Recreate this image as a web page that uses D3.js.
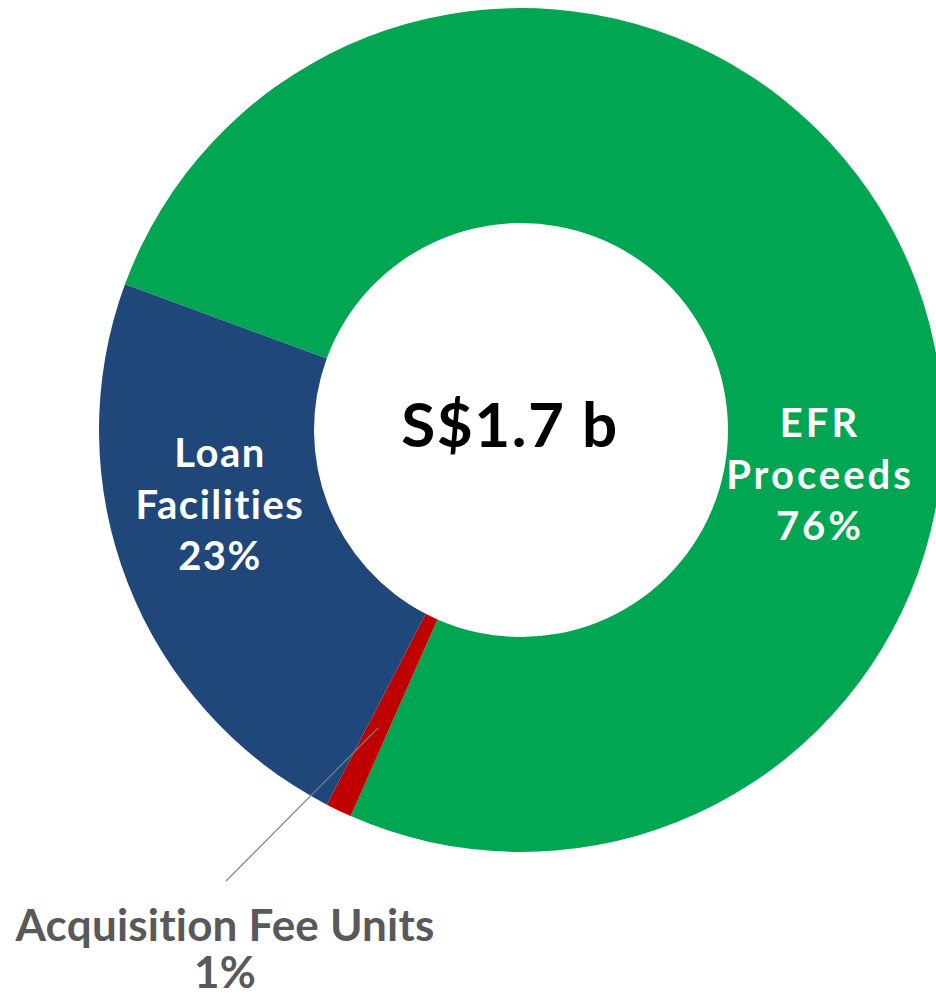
<!DOCTYPE html>
<html>
<head>
<meta charset="utf-8">
<script src="https://cdn.jsdelivr.net/npm/d3@7"></script>
<style>
  html, body { margin: 0; padding: 0; background: #fff; }
  svg { display: block; }
  text { font-family: Lato, "Noto Sans", sans-serif; font-weight: 700; font-variant-ligatures: none; font-feature-settings: "liga" 0, "clig" 0; }
</style>
</head>
<body>
<svg id="chart" width="936" height="996"></svg>
<script>
// Data
const categories = ["EFR Proceeds", "Acquisition Fee Units", "Loan Facilities"];
const values = [76, 1, 23];
const percentLabels = ["76%", "1%", "23%"];
const colors = ["#00A651", "#C00000", "#1F477A"];
const centerLabel = "S$1.7 b";

const svg = d3.select("#chart");
const cx = 521, cy = 430;
const outerR = 422, innerR = 207;
const startDeg = -69.8;

const pie = d3.pie()
  .sort(null)
  .value(d => d)
  .startAngle(startDeg * Math.PI / 180)
  .endAngle((startDeg + 360) * Math.PI / 180);

const arcs = pie(values);
const arc = d3.arc().innerRadius(innerR).outerRadius(outerR);

const g = svg.append("g").attr("transform", `translate(${cx},${cy})`);

g.selectAll("path.slice")
  .data(arcs)
  .join("path")
  .attr("class", "slice")
  .attr("d", arc)
  .attr("fill", (d, i) => colors[i]);

// Center label
g.append("text")
  .attr("x", -11)
  .attr("y", 17)
  .attr("text-anchor", "middle")
  .attr("font-size", 62)
  .attr("letter-spacing", 1.5)
  .attr("fill", "#000")
  .text(centerLabel);

// In-slice labels
function multiLabel(lines, x, y0, lh, size, fill, ls) {
  const t = svg.append("text")
    .attr("text-anchor", "middle")
    .attr("font-size", size)
    .attr("letter-spacing", ls)
    .attr("fill", fill);
  lines.forEach((l, i) => {
    t.append("tspan").attr("x", x).attr("y", y0 + i * lh).text(l);
  });
  return t;
}

multiLabel([categories[0].split(" ")[0], categories[0].split(" ")[1], percentLabels[0]], 820, 437, 51.5, 40, "#fff", 3);
multiLabel([categories[2].split(" ")[0], categories[2].split(" ")[1], percentLabels[2]], 220, 467, 51.5, 40, "#fff", 1.5);

// Leader line for the small slice
const smallArc = arcs[1];
const leaderR = 330;
const mid = (smallArc.startAngle + smallArc.endAngle) / 2;
const lx1 = cx + leaderR * Math.sin(mid);
const ly1 = cy - leaderR * Math.cos(mid);
svg.append("line")
  .attr("x1", lx1).attr("y1", ly1)
  .attr("x2", 226).attr("y2", 881)
  .attr("stroke", "#808080")
  .attr("stroke-width", 1.2);

multiLabel([categories[1], percentLabels[1]], 225, 941, 47, 44, "#595959", 0.2);
</script>
</body>
</html>
